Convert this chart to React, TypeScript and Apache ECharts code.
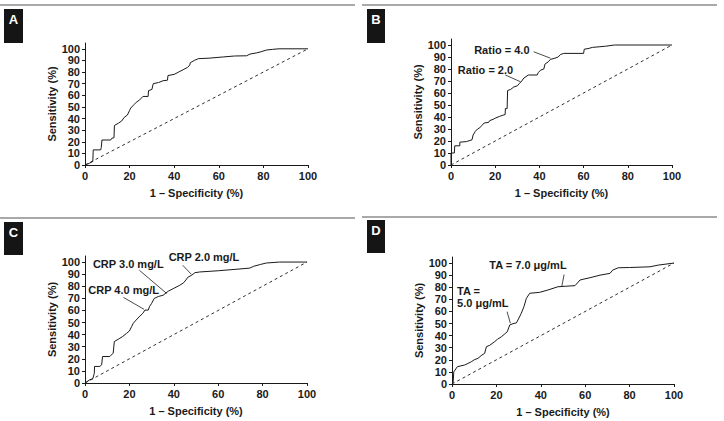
import React, { useEffect, useRef } from "react";
import * as echarts from "echarts";

// ---------- data ----------
const xTickValues = [0, 20, 40, 60, 80, 100];
const yTickValues = [0, 10, 20, 30, 40, 50, 60, 70, 80, 90, 100];
const panelLetters = ["A", "B", "C", "D"];
const xAxisTitle = "1 – Specificity (%)";
const yAxisTitle = "Sensitivity (%)";
const diagonal = [[0, 0], [100, 100]];

const rocA = [[0,0],[2,1.5],[3.5,3],[3.7,13],[7,13],[7.3,15],[7.6,21.5],[11.5,21.5],[12,23],[13,23.5],[13.2,34],[15,36],[16.5,38],[17.6,41],[19,43],[20,47],[20.5,49],[22,52],[23,54],[24.5,56],[26,59],[28.3,59],[28.5,64],[30,65],[30.6,70],[33,71],[35,72.5],[37,73],[37.2,77],[40,78],[42,80],[44,82],[46,84],[47,86],[47.2,88],[49,90],[50.8,91.5],[56,92],[62,93],[67,93.8],[72.5,94],[74,95.5],[77,96.5],[79,97.5],[81.5,99],[84,99.5],[87,100],[100,100]];

const rocB = [[0,0],[0,10],[1.5,10],[1.7,16],[4,16],[4,19],[7,19.5],[9.5,21],[10,25],[11,28],[12,30],[13,31],[14,33],[15,35],[17,35.5],[17.5,37],[19,38],[20,39],[22,40.5],[23.5,41.5],[24.5,42],[24.6,47],[25.4,47],[25.6,62],[27,63],[28.4,65],[30,66],[31,68],[32,70],[33,72.5],[35,75],[39,75],[39.5,77],[40.5,79],[42,80],[42.5,84],[44,86],[45,88],[47,89],[48.5,90],[49.5,92],[51,93],[60,93],[60.3,96.5],[62,97],[64,98],[67,98.5],[70,99],[74,100],[100,100]];

const rocC = [[0,0],[2.2,2.7],[3.5,3.5],[4.2,8],[4.3,13.7],[6.7,13.7],[7.5,15],[7.9,21.9],[11.2,21.9],[12.7,24.7],[13.2,34.2],[15.7,37],[17,38.5],[18.7,41],[20,43],[21,46.6],[21.7,49.3],[23,52],[24.7,55.3],[26,57.5],[27,60.3],[28.5,60.3],[29,63],[30,65.8],[31.2,69.9],[33,71.5],[35.2,72.6],[37.5,75.9],[39.7,78],[42.7,80.8],[44.5,83],[46.5,87.7],[48,89],[49.5,91.2],[51.7,91.8],[60,92.8],[68,94],[74.2,95],[76,96.5],[79,98],[81.7,99.2],[87.7,100],[100,100]];

const rocD = [[0,0],[0.5,1],[0.8,10],[2.4,14.3],[5.7,15.7],[7.2,17],[8.7,18.4],[10,20],[11.7,21.2],[13.5,24],[14.7,25.3],[15.5,30.9],[17,32],[19.2,35],[20.5,37],[22.2,39],[23.5,41],[24.9,43.2],[26,48.8],[27.5,49.9],[29,50.5],[29.7,52.9],[31.2,58.4],[32.4,63.9],[33.5,70.8],[35,75],[39.5,75.8],[43.2,77.7],[47.7,80.4],[51,80.8],[55.4,81.3],[57.7,86],[62.2,87.9],[66.7,90],[71.2,91.5],[72.4,94.2],[74.9,96.1],[80,96.3],[89.2,96.9],[92.9,98.3],[100,100]];

const rocSeries = [rocA, rocB, rocC, rocD];

// annotation texts: [text, x, y, align]
const notesA: any[] = [];
const notesB = [["Ratio = 4.0", 23, 96, "center"], ["Ratio = 2.0", 15.6, 79, "center"]];
const notesC = [["CRP 2.0 mg/L", 53.6, 104, "center"], ["CRP 3.0 mg/L", 19.5, 98.2, "center"], ["CRP 4.0 mg/L", 17.4, 76.8, "center"]];
const notesD = [["TA = 7.0 μg/mL", 34.2, 98.3, "center"], ["TA =\n5.0 μg/mL", 2.3, 72.2, "left"]];
const notes = [notesA, notesB, notesC, notesD];

// leader lines: [[x1,y1],[x2,y2]]
const leadersA: any[] = [];
const leadersB = [[[37.4, 94.4], [45, 89]], [[24.6, 75], [31.4, 69.4]]];
const leadersC = [[[44, 97.4], [48, 89.7]], [[24.5, 93.2], [36.8, 74]], [[17.3, 70.8], [26.6, 60.9]]];
const leadersD = [[[50.5, 90.5], [49.5, 81]], [[24.8, 59.8], [26.3, 50.2]]];
const leaders = [leadersA, leadersB, leadersC, leadersD];

// ---------- layout ----------
const gridRects = [
  { left: 85, top: 43, width: 223, height: 122 },
  { left: 451, top: 39, width: 221, height: 126 },
  { left: 85, top: 256, width: 222, height: 127 },
  { left: 452, top: 257, width: 222, height: 127 },
];
const topRules = [
  { x1: 0, x2: 355, y: 5 },
  { x1: 362, x2: 717, y: 5 },
  { x1: 0, x2: 355, y: 218 },
  { x1: 362, x2: 717, y: 217 },
];
const letterBoxes = [
  { x: 4, y: 9, w: 19, h: 34 },
  { x: 367, y: 9, w: 18, h: 34 },
  { x: 4, y: 222, w: 19, h: 33 },
  { x: 367, y: 220, w: 18, h: 33 },
];

const FONT = "'Liberation Sans', Arial, Helvetica, sans-serif";
const INK = "#1a1a1a";

export default function App() {
  const ref = useRef<HTMLDivElement>(null);
  useEffect(() => {
    if (!ref.current) return;
    const chart = echarts.init(ref.current, null, { renderer: "svg" });
    const textStyle = { fontFamily: FONT, fontSize: 11, fontWeight: "bold", color: INK };

    const grid = gridRects.map((g) => ({ ...g, containLabel: false, outerBoundsMode: "none" }));
    const xAxis = gridRects.map((_, i) => ({
      type: "value",
      gridIndex: i,
      min: 0,
      max: 100,
      interval: 20,
      name: xAxisTitle,
      nameLocation: "middle",
      nameGap: 22,
      nameTextStyle: { ...textStyle },
      axisLine: { onZero: false, lineStyle: { color: INK, width: 1 } },
      axisTick: { show: true, length: 3, lineStyle: { color: INK } },
      axisLabel: { ...textStyle, margin: 5, customValues: xTickValues },
      splitLine: { show: false },
    }));
    const yAxis = gridRects.map((_, i) => ({
      type: "value",
      gridIndex: i,
      min: 0,
      max: 105,
      name: yAxisTitle,
      nameLocation: "middle",
      nameGap: 20,
      nameTextStyle: { ...textStyle },
      axisLine: { show: true, onZero: false, lineStyle: { color: INK, width: 1 } },
      axisTick: { show: true, length: 3, lineStyle: { color: INK }, customValues: yTickValues },
      axisLabel: { ...textStyle, margin: 5, customValues: yTickValues },
      splitLine: { show: false },
    }));

    const series: any[] = [];
    rocSeries.forEach((d, i) => {
      series.push({
        type: "line",
        xAxisIndex: i,
        yAxisIndex: i,
        data: diagonal,
        showSymbol: false,
        clip: false,
        lineStyle: { color: INK, width: 0.9, type: [3, 3] },
      });
      series.push({
        type: "line",
        xAxisIndex: i,
        yAxisIndex: i,
        data: d,
        showSymbol: false,
        clip: false,
        lineStyle: { color: INK, width: 1 },
      });
      series.push({
        type: "scatter",
        xAxisIndex: i,
        yAxisIndex: i,
        clip: false,
        symbolSize: 1,
        itemStyle: { color: "rgba(255,255,255,0)" },
        data: notes[i].map((n: any) => ({
          name: n[0],
          value: [n[1], n[2]],
          label: { align: n[3] },
        })),
        label: {
          show: true,
          position: "inside",
          formatter: "{b}",
          ...textStyle,
          color: INK,
          opacity: 1,
          textBorderWidth: 0,
          lineHeight: 12,
          verticalAlign: "middle",
        },
        markLine: {
          silent: true,
          symbol: ["none", "none"],
          label: { show: false },
          lineStyle: { color: INK, width: 0.8, type: "solid", opacity: 1 },
          data: leaders[i].map((l: any) => [{ coord: l[0] }, { coord: l[1] }]),
        },
      });
    });

    const graphic: any[] = [];
    topRules.forEach((r) =>
      graphic.push({
        type: "line",
        shape: { x1: r.x1, y1: r.y, x2: r.x2, y2: r.y },
        style: { stroke: "#8c8c8c", lineWidth: 1.5 },
      })
    );
    letterBoxes.forEach((b, i) => {
      graphic.push({
        type: "rect",
        shape: { x: b.x, y: b.y, width: b.w, height: b.h },
        style: { fill: "#151515" },
      });
      graphic.push({
        type: "text",
        x: b.x + b.w / 2,
        y: b.y + 10,
        style: {
          text: panelLetters[i],
          fill: "#ffffff",
          font: `bold 13px ${FONT}`,
          textAlign: "center",
          textVerticalAlign: "middle",
        },
      });
    });

    chart.setOption({
      animation: false,
      backgroundColor: "#ffffff",
      grid,
      xAxis,
      yAxis,
      series,
      graphic,
    });
    return () => chart.dispose();
  }, []);
  return (
    <div
      ref={ref}
      style={{ position: "absolute", left: 0, top: 0, width: 724, height: 421, background: "#fff" }}
    />
  );
}
